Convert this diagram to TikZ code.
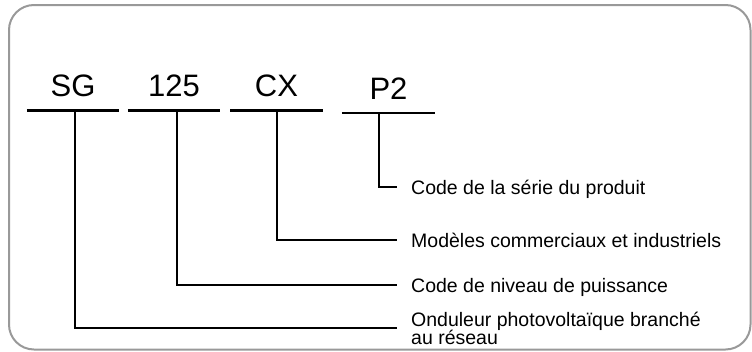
\documentclass[tikz,border=0pt]{standalone}
\usepackage{fontspec}
\setmainfont{Liberation Sans}
\newcommand\descfont{\fontsize{19.5}{18}\selectfont\lineskiplimit=-20pt\relax}
\begin{document}
\begin{tikzpicture}[x=1pt,y=-1pt,
	code/.style={font=\fontsize{31}{31}\selectfont,minimum width=92pt,
	text height=22pt,text depth=0pt,inner ysep=13.5pt,inner xsep=0pt,anchor=south},
	desc/.style={font=\descfont,
	inner xsep=14pt,inner ysep=0pt,anchor=west,align=left},
	one/.style={text height=15pt,text depth=0pt},
	uline/.style={line width=2.4pt},
	conn/.style={line width=2pt}]
\useasboundingbox (0,0) rectangle (752,351);
\draw[black!40,line width=2pt,rounded corners=25pt] (9,5) rectangle (750.5,349.5);
\node[code] (sg) at (73,110.5) {SG};
\node[code] (p125) at (174,110.5) {125};
\node[code] (cx) at (276.5,110.5) {CX};
\node[code,minimum width=93pt] (p2) at (388.5,113) {P2};
\node[desc,one] (d-p2) at (397,187) {Code de la série du produit};
\node[desc,one] (d-cx) at (397,240) {Modèles commerciaux et industriels};
\node[desc,one] (d-125) at (397,285) {Code de niveau de puissance};
\node[desc] (d-sg) at (397,328) {Onduleur photovoltaïque branché\\au réseau};
\foreach \c in {sg,p125,cx,p2}
	\draw[uline] (\c.south west) -- (\c.south east);
\draw[conn] ([xshift=2pt]sg.south) |- (d-sg.west);
\draw[conn] ([xshift=3pt]p125.south) |- (d-125.west);
\draw[conn] (cx.south) |- (d-cx.west);
\draw[conn] ([xshift=-9.5pt]p2.south) |- (d-p2.west);
\end{tikzpicture}
\end{document}
